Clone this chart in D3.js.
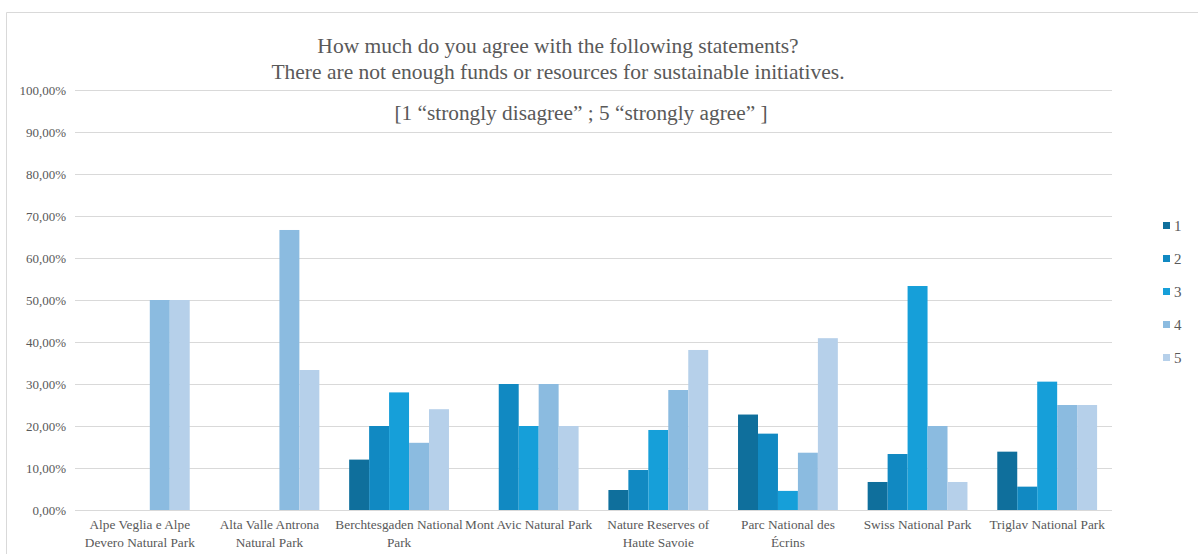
<!DOCTYPE html>
<html>
<head>
<meta charset="utf-8">
<script src="https://cdn.jsdelivr.net/npm/d3@7"></script>
<style>
  html, body { margin: 0; padding: 0; background: #fff; }
  svg { display: block; }
  text { font-family: "Liberation Serif", "Times New Roman", serif; }
</style>
</head>
<body>
<svg id="chart" width="1198" height="554"></svg>
<script>
// Survey answers per park, share of respondents for each score 1..5
const parks = [
  ["Alpe Veglia e Alpe", "Devero Natural Park"],
  ["Alta Valle Antrona", "Natural Park"],
  ["Berchtesgaden National", "Park"],
  ["Mont Avic Natural Park"],
  ["Nature Reserves of", "Haute Savoie"],
  ["Parc National des", "Écrins"],
  ["Swiss National Park"],
  ["Triglav National Park"]
];
const scores = ["1", "2", "3", "4", "5"];
const score1 = [0, 0, 12.00, 0, 4.76, 22.73, 6.67, 13.89];
const score2 = [0, 0, 20.00, 30.00, 9.52, 18.18, 13.33, 5.56];
const score3 = [0, 0, 28.00, 20.00, 19.05, 4.55, 53.33, 30.56];
const score4 = [50.00, 66.67, 16.00, 30.00, 28.57, 13.64, 20.00, 25.00];
const score5 = [50.00, 33.33, 24.00, 20.00, 38.10, 40.91, 6.67, 25.00];
const yTicks = [0, 10, 20, 30, 40, 50, 60, 70, 80, 90, 100];
const colors = ["#0f6f9c", "#1189c2", "#169fd9", "#8bbbe0", "#b6d0ea"];
const titleLines = [
  "How much do you agree with the following statements?",
  "There are not enough funds or resources for sustainable initiatives."
];
const subtitle = "[1 \u201cstrongly disagree\u201d ; 5 \u201cstrongly agree\u201d ]";

const series = [score1, score2, score3, score4, score5];
const svg = d3.select("#chart");

// outer frame
svg.append("path")
  .attr("d", "M6.5,554 V12.5 H1198")
  .attr("fill", "none").attr("stroke", "#d9d9d9").attr("stroke-width", 1);

const plotLeft = 75, plotRight = 1112, plotTop = 90, plotBottom = 510;

const x0 = d3.scaleBand().domain(d3.range(parks.length)).range([plotLeft, plotRight]).paddingInner(0.23).paddingOuter(0.115);
const x1 = d3.scaleBand().domain(scores).range([0, x0.bandwidth()]);
const y = d3.scaleLinear().domain([0, 100]).range([plotBottom, plotTop]);

// gridlines
svg.append("g").selectAll("line").data(yTicks).join("line")
  .attr("x1", plotLeft).attr("x2", plotRight)
  .attr("y1", d => Math.round(y(d)) + 0.5).attr("y2", d => Math.round(y(d)) + 0.5)
  .attr("stroke", "#d9d9d9").attr("stroke-width", 1);

// y axis labels
const yAxis = svg.append("g").attr("transform", `translate(${plotLeft - 9},0)`)
  .call(d3.axisLeft(y).tickValues(yTicks).tickSize(0).tickPadding(0)
    .tickFormat(d => d3.format(".2f")(d).replace(".", ",") + "%"));
yAxis.select(".domain").remove();
yAxis.selectAll("text")
  .attr("font-family", "Liberation Serif, serif")
  .attr("font-size", 13).attr("fill", "#595959");

// bars
const groups = svg.append("g").selectAll("g").data(parks).join("g")
  .attr("transform", (d, i) => `translate(${x0(i)},0)`);
groups.selectAll("rect")
  .data((d, i) => scores.map((s, k) => ({ s, k, v: series[k][i] })))
  .join("rect")
  .attr("x", d => x1(d.s))
  .attr("y", d => y(d.v))
  .attr("width", x1.bandwidth())
  .attr("height", d => plotBottom - y(d.v))
  .attr("fill", d => colors[d.k]);

// category labels
const xAxis = svg.append("g");
parks.forEach((lines, i) => {
  const cx = x0(i) + x0.bandwidth() / 2;
  const t = xAxis.append("text")
    .attr("x", cx)
    .attr("y", 529)
    .attr("text-anchor", "middle")
    .attr("font-size", 13.3).attr("fill", "#595959");
  lines.forEach((ln, j) => {
    t.append("tspan").attr("x", cx).attr("dy", j === 0 ? 0 : 18).text(ln);
  });
});

// titles
svg.append("g").selectAll("text").data(titleLines).join("text")
  .attr("x", 558).attr("y", (d, i) => 53 + i * 26)
  .attr("text-anchor", "middle").attr("font-size", 21.5).attr("fill", "#595959")
  .text(d => d);
svg.append("text").attr("x", 581).attr("y", 120)
  .attr("text-anchor", "middle").attr("font-size", 21.3).attr("fill", "#595959")
  .text(subtitle);

// legend
const legend = svg.append("g").selectAll("g").data(scores).join("g")
  .attr("transform", (d, i) => `translate(1163,${226 + i * 33})`);
legend.append("rect").attr("x", 0).attr("y", -4).attr("width", 7).attr("height", 7)
  .attr("fill", (d, i) => colors[i]);
legend.append("text").attr("x", 11).attr("y", 5)
  .attr("font-size", 15).attr("fill", "#595959").text(d => d);
</script>
</body>
</html>
